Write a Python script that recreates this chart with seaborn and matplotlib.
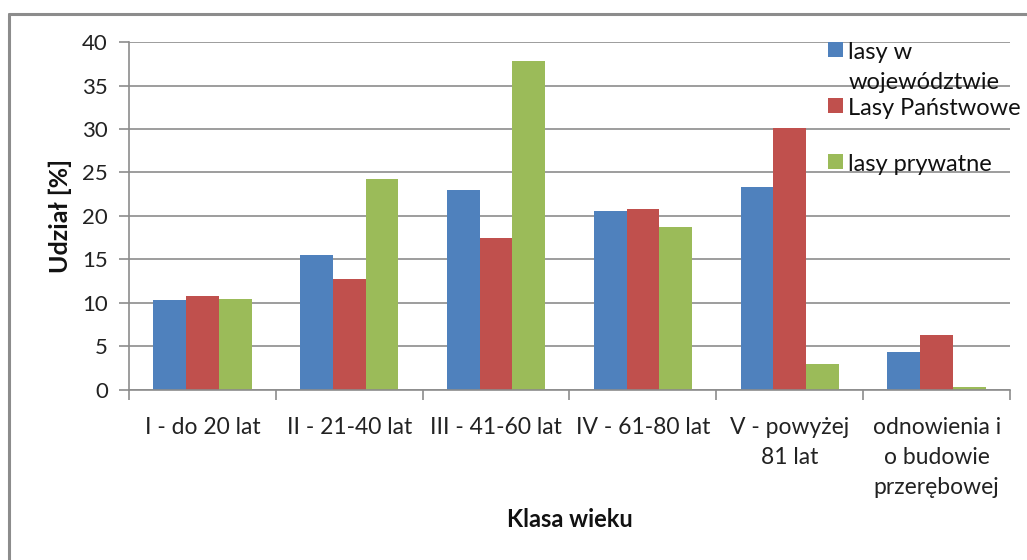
import matplotlib
matplotlib.use("Agg")
import matplotlib.pyplot as plt
import matplotlib.lines as mlines
import seaborn as sns
import pandas as pd
import numpy as np

categories = ["I - do 20 lat", "II - 21-40 lat", "III - 41-60 lat", "IV - 61-80 lat",
              "V - powyżej\n81 lat", "odnowienia i\no budowie\nprzerębowej"]
series_names = ["lasy w\nwojewództwie", "Lasy Państwowe", "lasy prywatne"]
lasy_wojewodztwo = [10.3, 15.55, 23.0, 20.6, 23.3, 4.35]
lasy_panstwowe = [10.8, 12.7, 17.5, 20.85, 30.15, 6.25]
lasy_prywatne = [10.4, 24.3, 37.9, 18.75, 2.9, 0.27]
colors = ["#4F81BD", "#C0504D", "#9BBB59"]
y_ticks = [0, 5, 10, 15, 20, 25, 30, 35, 40]

df = pd.DataFrame({
    "Klasa": categories * 3,
    "Seria": [series_names[0]] * 6 + [series_names[1]] * 6 + [series_names[2]] * 6,
    "Udzial": lasy_wojewodztwo + lasy_panstwowe + lasy_prywatne,
})

sns.set_theme(style="white")
plt.rcParams["font.family"] = ["Lato", "DejaVu Sans"]

W, H = 1027, 560
fig = plt.figure(figsize=(W / 100, H / 100), dpi=100)
ax = fig.add_axes([129 / W, 1 - 389.5 / H, (1010 - 129) / W, (389.5 - 42.3) / H])

sns.barplot(data=df, x="Klasa", y="Udzial", hue="Seria", order=categories,
            hue_order=series_names, palette=colors, width=0.67, gap=0,
            saturation=1, ax=ax, edgecolor="none", linewidth=0)

ax.set_ylim(0, 40)
ax.set_xlim(-0.5, len(categories) - 0.5)
ax.set_yticks(y_ticks)
ax.yaxis.grid(True, color="#8C8C8C", linewidth=1.2)
ax.set_axisbelow(True)
for s in ["top", "right"]:
    ax.spines[s].set_visible(False)
for s in ["left", "bottom"]:
    ax.spines[s].set_color("#8C8C8C")
    ax.spines[s].set_linewidth(1.2)

ax.tick_params(axis="y", which="major", left=True, length=7.2, width=1.2, color="#8C8C8C",
               labelsize=16, labelcolor="#222222", pad=8)
ax.tick_params(axis="x", which="major", bottom=False, labelsize=16.5, labelcolor="#222222", pad=14)
for t in ax.get_xticklabels():
    t.set_linespacing(1.52)
ax.set_xticks(np.arange(-0.5, len(categories), 1.0), minor=True)
ax.tick_params(axis="x", which="minor", bottom=True, length=7.2, width=1.2, color="#8C8C8C")

ax.set_ylabel("Udział [%]", fontsize=18, fontweight="bold", color="#111111", labelpad=7)
ax.set_xlabel("Klasa wieku", fontsize=17, fontweight="bold", color="#111111", labelpad=7)

handles, _ = ax.get_legend_handles_labels()
leg_labels = ["lasy w\nwojewództwie", "Lasy Państwowe\n ", "lasy prywatne\n "]
leg = ax.legend(handles, leg_labels, loc="upper left",
                bbox_to_anchor=(828 / W, 1 - 42 / H), bbox_transform=fig.transFigure,
                frameon=False, fontsize=17, handlelength=0.64, handleheight=0.6,
                handletextpad=0.22, labelspacing=0.19, borderpad=0, borderaxespad=0)
for t in leg.get_texts():
    t.set_linespacing(1.55)
    t.set_color("#111111")
# align each legend marker with the first line of its label
for col in leg._legend_handle_box.get_children():
    for item in col.get_children():
        item.align = "top"

# outer chart border (left and top)
fig.add_artist(mlines.Line2D([9 / W, 9 / W], [0, 1 - 14 / H], color="#8C8C8C",
                             linewidth=2.2, transform=fig.transFigure))
fig.add_artist(mlines.Line2D([9 / W, 1], [1 - 14 / H, 1 - 14 / H], color="#8C8C8C",
                             linewidth=2.2, transform=fig.transFigure))

fig.savefig("out.png", dpi=100)
